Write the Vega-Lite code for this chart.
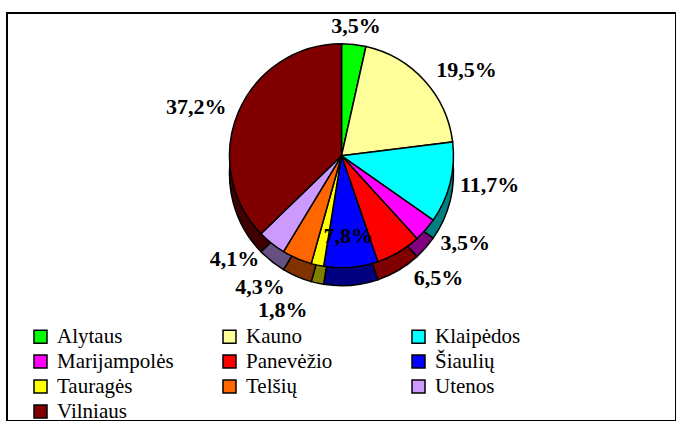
{
  "$schema": "https://vega.github.io/schema/vega-lite/v6.json",
  "width": 669,
  "height": 408,
  "autosize": {"type": "none"},
  "padding": {"left": 7, "top": 13, "right": 0, "bottom": 0},
  "background": "white",
  "view": {"stroke": "black", "strokeWidth": 2},
  "config": {
    "view": {"stroke": "black", "strokeWidth": 2},
    "legend": {"labelFont": "Times New Roman"},
    "text": {"font": "Times New Roman"}
  },
  "data": {
    "values": [
      {"i": 1, "region": "Alytaus", "pct": 3.5, "label": "3,5%"},
      {"i": 2, "region": "Kauno", "pct": 19.5, "label": "19,5%"},
      {"i": 3, "region": "Klaipėdos", "pct": 11.7, "label": "11,7%"},
      {"i": 4, "region": "Marijampolės", "pct": 3.5, "label": "3,5%"},
      {"i": 5, "region": "Panevėžio", "pct": 6.5, "label": "6,5%"},
      {"i": 6, "region": "Šiaulių", "pct": 7.8, "label": "7,8%"},
      {"i": 7, "region": "Tauragės", "pct": 1.8, "label": "1,8%"},
      {"i": 8, "region": "Telšių", "pct": 4.3, "label": "4,3%"},
      {"i": 9, "region": "Utenos", "pct": 4.1, "label": "4,1%"},
      {"i": 10, "region": "Vilniaus", "pct": 37.2, "label": "37,2%"}
    ]
  },
  "encoding": {
    "theta": {"field": "pct", "type": "quantitative", "stack": true},
    "order": {"field": "i", "type": "quantitative"}
  },
  "layer": [
    {
      "mark": {"type": "arc", "radius": 112, "x": {"expr": "width/2"}, "y": {"expr": "height*0.35+8"}, "strokeWidth": 0},
      "encoding": {
        "color": {
          "field": "region", "type": "nominal", "legend": null,
          "scale": {
            "domain": ["Alytaus", "Kauno", "Klaipėdos", "Marijampolės", "Panevėžio", "Šiaulių", "Tauragės", "Telšių", "Utenos", "Vilniaus"],
            "range": ["#008000", "#808040", "#008080", "#800080", "#800000", "#000080", "#808000", "#803300", "#665080", "#400000"]
          }
        }
      }
    },
    {
      "mark": {"type": "arc", "radius": 112, "x": {"expr": "width/2"}, "y": {"expr": "height*0.35+18"}, "stroke": "black", "strokeWidth": 1.5},
      "encoding": {
        "color": {
          "field": "region", "type": "nominal", "legend": null,
          "scale": {
            "domain": ["Alytaus", "Kauno", "Klaipėdos", "Marijampolės", "Panevėžio", "Šiaulių", "Tauragės", "Telšių", "Utenos", "Vilniaus"],
            "range": ["#008000", "#808040", "#008080", "#800080", "#800000", "#000080", "#808000", "#803300", "#665080", "#400000"]
          }
        }
      }
    },
    {
      "mark": {"type": "arc", "radius": 112, "x": {"expr": "width/2"}, "y": {"expr": "height*0.35"}, "stroke": "black", "strokeWidth": 1.5},
      "encoding": {
        "color": {
          "field": "region", "type": "nominal",
          "scale": {
            "domain": ["Alytaus", "Kauno", "Klaipėdos", "Marijampolės", "Panevėžio", "Šiaulių", "Tauragės", "Telšių", "Utenos", "Vilniaus"],
            "range": ["#00FF00", "#FFFF99", "#00FFFF", "#FF00FF", "#FF0000", "#0000FF", "#FFFF00", "#FF6600", "#CC99FF", "#800000"]
          },
          "legend": {
            "orient": "none", "legendX": 23, "legendY": 313,
            "direction": "horizontal", "columns": 3, "title": null,
            "symbolType": "square", "symbolSize": 169,
            "symbolStrokeColor": "black", "symbolStrokeWidth": 1.5, "symbolOpacity": 1,
            "labelFont": "Times New Roman", "labelFontSize": 21, "labelColor": "black",
            "labelOffset": 6, "columnPadding": 45, "rowPadding": 3, "gridAlign": "all",
            "labelLimit": 300
          }
        }
      }
    },
    {
      "mark": {
        "type": "text", "x": {"expr": "width/2"}, "y": {"expr": "height*0.35"},
        "radius": {"expr": "datum.i == 1 ? 131 : datum.i == 2 ? 128 : datum.i == 3 ? 122 : datum.i == 4 ? 132 : datum.i == 5 ? 142 : datum.i == 6 ? 80 : datum.i == 7 ? 158 : datum.i == 8 ? 143 : datum.i == 9 ? 132 : 125"},
        "align": {"expr": "datum.i == 1 || datum.i == 6 ? 'center' : datum.i <= 5 ? 'left' : 'right'"},
        "baseline": "middle",
        "font": "Times New Roman", "fontSize": 22, "fontWeight": "bold", "color": "black"
      },
      "encoding": {"text": {"field": "label", "type": "nominal"}}
    }
  ],
  "resolve": {"scale": {"color": "independent"}}
}
